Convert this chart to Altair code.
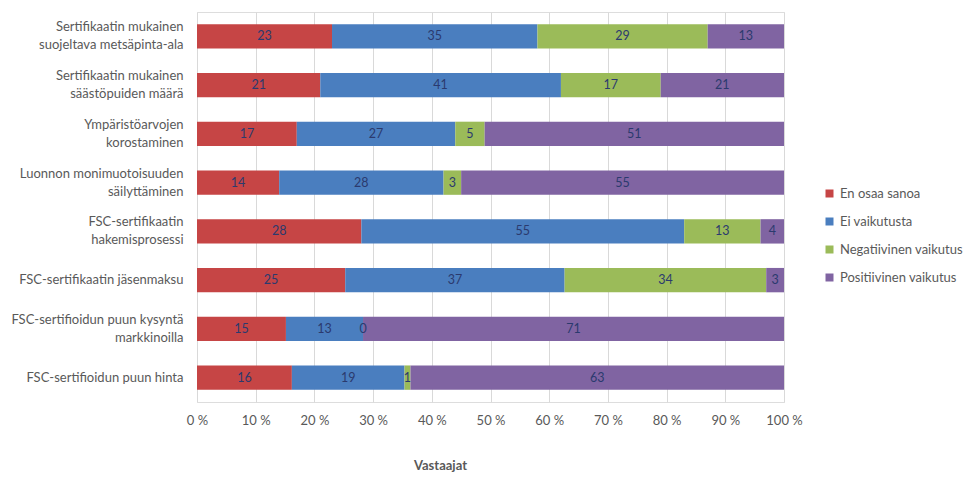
import altair as alt
import pandas as pd

categories = [
    "Sertifikaatin mukainen|suojeltava metsäpinta-ala",
    "Sertifikaatin mukainen|säästöpuiden määrä",
    "Ympäristöarvojen|korostaminen",
    "Luonnon monimuotoisuuden|säilyttäminen",
    "FSC-sertifikaatin|hakemisprosessi",
    "FSC-sertifikaatin jäsenmaksu",
    "FSC-sertifioidun puun kysyntä|markkinoilla",
    "FSC-sertifioidun puun hinta",
]
series = ["En osaa sanoa", "Ei vaikutusta", "Negatiivinen vaikutus", "Positiivinen vaikutus"]
en_osaa = [23, 21, 17, 14, 28, 25, 15, 16]
ei_vaik = [35, 41, 27, 28, 55, 37, 13, 19]
negat = [29, 17, 5, 3, 13, 34, 0, 1]
posit = [13, 21, 51, 55, 4, 3, 71, 63]
colors = ["#C64545", "#4A7EBF", "#9BBB59", "#8064A2"]
ticks = [0, 0.1, 0.2, 0.3, 0.4, 0.5, 0.6, 0.7, 0.8, 0.9, 1.0]

rows = []
for s_i, (s, vals) in enumerate(zip(series, [en_osaa, ei_vaik, negat, posit])):
    for c, v in zip(categories, vals):
        rows.append({"cat": c, "series": s, "order": s_i, "value": v})
df = pd.DataFrame(rows)

FONT = "Lato"
FS = 13

base = alt.Chart(df).transform_stack(
    stack="value",
    groupby=["cat"],
    as_=["x0", "x1"],
    offset="normalize",
    sort=[alt.SortField("order", order="ascending")],
).transform_calculate(mid="(datum.x0 + datum.x1) / 2")

y_enc = alt.Y(
    "cat:N",
    sort=categories,
    scale=alt.Scale(paddingInner=0.5, paddingOuter=0.25),
    axis=alt.Axis(
        title=None,
        ticks=False,
        domain=False,
        labelExpr="split(datum.label, '|')",
        labelOffset={"condition": {"test": "indexof(datum.value, '|') >= 0", "value": -9}, "value": 0},
        labelFont=FONT,
        labelFontSize=FS,
        labelColor="#595959",
        labelPadding=14,
        labelLineHeight=18,
        labelLimit=400,
    ),
)

bars = base.mark_bar().encode(
    x=alt.X(
        "x0:Q",
        scale=alt.Scale(domain=[0, 1], nice=False),
        axis=alt.Axis(
            values=ticks,
            labelExpr="format(datum.value * 100, 'd') + ' %'",
            labelFlush=False,
            title="Vastaajat",
            titleFont=FONT,
            titleFontSize=FS,
            titleFontWeight="bold",
            titleColor="#595959",
            titleX=243,
            titleY=63,
            titleBaseline="middle",
            titleAnchor="middle",
            labelFont=FONT,
            labelFontSize=FS,
            labelColor="#595959",
            labelPadding=12,
            ticks=False,
            domain=False,
            grid=True,
            gridColor="#D9D9D9",
        ),
    ),
    x2="x1:Q",
    y=y_enc,
    color=alt.Color(
        "series:N",
        scale=alt.Scale(domain=series, range=colors),
        sort=series,
        legend=alt.Legend(
            title=None,
            orient="none",
            legendX=626,
            legendY=175,
            symbolType="square",
            symbolSize=64,
            symbolStrokeWidth=0,
            labelFont=FONT,
            labelFontSize=FS,
            labelColor="#595959",
            rowPadding=14,
            labelOffset=4,
        ),
    ),
    order=alt.Order("order:Q"),
)

labels = base.mark_text(font=FONT, fontSize=12.5, color="#2B3A6E").encode(
    x=alt.X("mid:Q"),
    y=alt.Y("cat:N", sort=categories),
    text=alt.Text("value:Q"),
)

chart = (
    alt.layer(bars, labels)
    .properties(
        width=587,
        height=390,
        autosize=alt.AutoSizeParams(type="none"),
        padding={"left": 189, "top": 4, "right": 182, "bottom": 72},
    )
    .configure_view(stroke=None)
    .configure(background="white")
)

chart.save("out.html", embed_options={"renderer": "svg", "actions": False})
